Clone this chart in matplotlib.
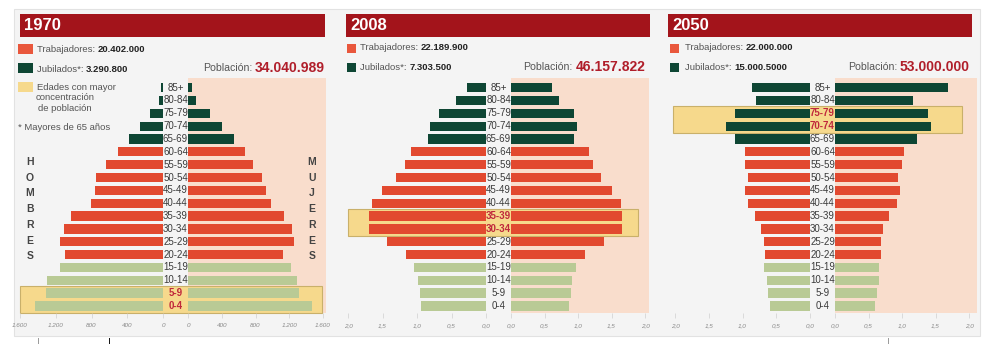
import matplotlib
matplotlib.use('Agg')
import matplotlib.pyplot as plt
from matplotlib.patches import Rectangle
import matplotlib.transforms as mtransforms

plt.rcParams['font.family'] = ['Liberation Sans Narrow', 'Liberation Sans', 'DejaVu Sans']

# ---------------- data ----------------
ages = ['0-4', '5-9', '10-14', '15-19', '20-24', '25-29', '30-34', '35-39', '40-44',
        '45-49', '50-54', '55-59', '60-64', '65-69', '70-74', '75-79', '80-84', '85+']
groups = ['young'] * 4 + ['worker'] * 9 + ['retired'] * 5

years = ['1970', '2008', '2050']

men_1970 = [1435, 1305, 1300, 1150, 1100, 1155, 1110, 1025, 810, 757, 745, 635, 500, 380, 260, 140, 45, 25]
women_1970 = [1470, 1310, 1295, 1215, 1125, 1255, 1235, 1135, 980, 930, 880, 770, 670, 545, 405, 255, 100, 50]

men_2008 = [0.94, 0.96, 0.99, 1.04, 1.16, 1.44, 1.70, 1.70, 1.65, 1.51, 1.31, 1.18, 1.08, 0.84, 0.81, 0.68, 0.44, 0.27]
women_2008 = [0.87, 0.89, 0.91, 0.97, 1.10, 1.39, 1.66, 1.65, 1.64, 1.51, 1.34, 1.22, 1.17, 0.94, 0.99, 0.94, 0.71, 0.61]

men_2050 = [0.59, 0.62, 0.64, 0.68, 0.67, 0.68, 0.73, 0.81, 0.92, 0.96, 0.92, 0.97, 0.97, 1.11, 1.25, 1.11, 0.80, 0.86]
women_2050 = [0.59, 0.62, 0.65, 0.66, 0.68, 0.69, 0.72, 0.81, 0.92, 0.97, 0.94, 1.00, 1.03, 1.22, 1.44, 1.39, 1.17, 1.68]

workers = ['20.402.000', '22.189.900', '22.000.000']
retirees = ['3.290.800', '7.303.500', '15.000.5000']
population = ['34.040.989', '46.157.822', '53.000.000']
highlights = [['5-9', '0-4'], ['35-39', '30-34'], ['75-79', '70-74']]

ticks_1970 = [0, 400, 800, 1200, 1600]
ticklabels_1970 = ['0', '400', '800', '1.200', '1.600']
ticks_mill = [0.0, 0.5, 1.0, 1.5, 2.0]
ticklabels_mill = ['0,0', '0,5', '1,0', '1,5', '2,0']

men = [men_1970, men_2008, men_2050]
women = [women_1970, women_2008, women_2050]
ticks = [ticks_1970, ticks_mill, ticks_mill]
ticklabels = [ticklabels_1970, ticklabels_mill, ticklabels_mill]

# ---------------- styles / layout (pixels) ----------------
W, H = 997, 344
COL = {'young': '#b9ca95', 'worker': '#e2492f', 'retired': '#0e4634'}
RED_HDR = '#a3141b'
PINK = '#f9ddcc'
YEL = '#f6d98c'
HL_RED = '#c0283c'

layout = [
    dict(x0=20, x1=325, L=(20, 163), R=(188, 323), mid=175.5, pink=(188, 326),
         box=(20, 322), sq=(18, 15, 10), tx=37, pop_r=325),
    dict(x0=346, x1=650, L=(348, 486), R=(511, 645), mid=498.5, pink=(511, 649),
         box=(348, 638), sq=(347, 9, 9), tx=360, pop_r=645),
    dict(x0=668, x1=972, L=(675, 810), R=(835, 969), mid=822.5, pink=(835, 977),
         box=(673, 962), sq=(670, 9, 9), tx=685, pop_r=970),
]
AX_TOP, AX_BOT = 78, 313
YLIM = (-0.55, 17.75)

fig = plt.figure(figsize=(W / 100, H / 100), dpi=100)
fig.patch.set_facecolor('white')

canvas = fig.add_axes([0, 0, 1, 1], zorder=-5)
canvas.set_xlim(0, W)
canvas.set_ylim(H, 0)
canvas.axis('off')

# panel background
canvas.add_patch(Rectangle((14, 9), 966, 327, facecolor='#f4f4f4', edgecolor='#e2e2e2', lw=0.8))
# small marks under the panels
for xx, cc in [(37.7, '#999999'), (108.7, '#111111'), (887.7, '#999999')]:
    canvas.plot([xx, xx], [338, 344], color=cc, lw=0.7)


def frac(px_x0, px_x1):
    return [px_x0 / W, 1 - AX_BOT / H, (px_x1 - px_x0) / W, (AX_BOT - AX_TOP) / H]


def style_axis(ax, xticks, xlabels):
    ax.set_facecolor('none')
    for s in ax.spines.values():
        s.set_visible(False)
    ax.set_yticks([])
    ax.set_xticks(xticks)
    ax.set_xticklabels(xlabels)
    ax.tick_params(axis='x', length=3.5, width=0.5, color='#cfcfcf', labelsize=4.6,
                   labelcolor='#8a8a8a', pad=4)
    for lab in ax.get_xticklabels():
        lab.set_fontstyle('italic')
    ax.set_ylim(*YLIM)


for i, lay in enumerate(layout):
    # header
    canvas.add_patch(Rectangle((lay['x0'], 14), lay['x1'] - lay['x0'], 23, facecolor=RED_HDR, edgecolor='none'))
    canvas.text(lay['x0'] + 4, 26, years[i], color='white', fontsize=12, fontweight='bold', va='center', ha='left')

    # legend
    sx, sw, sh = lay['sq']
    canvas.add_patch(Rectangle((sx, 50 - sh / 2 - (1 if i == 0 else 2)), sw, sh, facecolor='#e9573c', edgecolor='none'))
    canvas.add_patch(Rectangle((sx, 69 - sh / 2 - (1 if i == 0 else 2)), sw, sh, facecolor=COL['retired'], edgecolor='none'))
    ly1, ly2 = (50, 69) if i == 0 else (48, 67)
    t1 = canvas.text(lay['tx'], ly1, 'Trabajadores: ', fontsize=6.8, color='#555555', va='center', ha='left')
    canvas.annotate(workers[i], xy=(1, 0.5), xycoords=t1, fontsize=6.8, fontweight='bold',
                    color='#222222', va='center', ha='left')
    t2 = canvas.text(lay['tx'], ly2, 'Jubilados*: ', fontsize=6.8, color='#555555', va='center', ha='left')
    canvas.annotate(retirees[i], xy=(1, 0.5), xycoords=t2, fontsize=6.8, fontweight='bold',
                    color='#222222', va='center', ha='left')
    if i == 0:
        canvas.add_patch(Rectangle((sx, 82), sw, 10, facecolor=YEL, edgecolor='none'))
        canvas.text(lay['tx'], 87, 'Edades con mayor', fontsize=6.8, color='#555555', va='center')
        canvas.text(lay['tx'] - 1, 97.5, 'concentración', fontsize=6.8, color='#555555', va='center')
        canvas.text(lay['tx'] + 1, 108.5, 'de población', fontsize=6.8, color='#555555', va='center')
        canvas.text(18, 127.5, '* Mayores de 65 años', fontsize=6.8, color='#555555', va='center')

    # population
    py = 68 if i == 0 else 67
    tp = canvas.text(lay['pop_r'], py, population[i], fontsize=10, fontweight='bold',
                     color='#b01e2a', ha='right', va='center')
    canvas.annotate('Población:', xy=(0, 0.5), xycoords=tp, xytext=(-2, 0.3), textcoords='offset points',
                    fontsize=7.6, color='#555555', ha='right', va='center')

    # pink (women) background
    canvas.add_patch(Rectangle((lay['pink'][0], AX_TOP), lay['pink'][1] - lay['pink'][0], AX_BOT - AX_TOP,
                               facecolor=PINK, edgecolor='none'))

    # data axes
    xmax = ticks[i][-1]
    axL = fig.add_axes(frac(*lay['L']))
    axR = fig.add_axes(frac(*lay['R']))
    ypos = list(range(len(ages)))
    colors = [COL[g] for g in groups]
    axL.barh(ypos, men[i], height=0.72, color=colors)
    axR.barh(ypos, women[i], height=0.72, color=colors)
    axL.set_xlim(xmax, 0)
    axR.set_xlim(0, xmax)
    style_axis(axL, ticks[i], ticklabels[i])
    style_axis(axR, ticks[i], ticklabels[i])

    blend = mtransforms.blended_transform_factory(canvas.transData, axL.transData)

    # highlight box
    rows = [ages.index(a) for a in highlights[i]]
    lo, hi = min(rows) - 0.56, max(rows) + 0.54
    canvas.add_patch(Rectangle((lay['box'][0], lo), lay['box'][1] - lay['box'][0], hi - lo,
                               transform=blend, facecolor=YEL, edgecolor='#c9b06a', lw=0.8))

    # age labels
    for k, a in enumerate(ages):
        hl = a in highlights[i]
        canvas.text(lay['mid'], k, a, transform=blend, ha='center', va='center', fontsize=7,
                    color=HL_RED if hl else '#3a3a3a', fontweight='bold' if hl else 'normal')

# HOMBRES / MUJERES letters (1970 panel)
for j, (lh, lm) in enumerate(zip('HOMBRES', 'MUJERES')):
    yy = 162 + j * 15.7
    canvas.text(30, yy, lh, fontsize=7.5, fontweight='bold', color='#444444', ha='center', va='center')
    canvas.text(312, yy, lm, fontsize=7.5, fontweight='bold', color='#444444', ha='center', va='center')

fig.savefig('out.png', dpi=100)
